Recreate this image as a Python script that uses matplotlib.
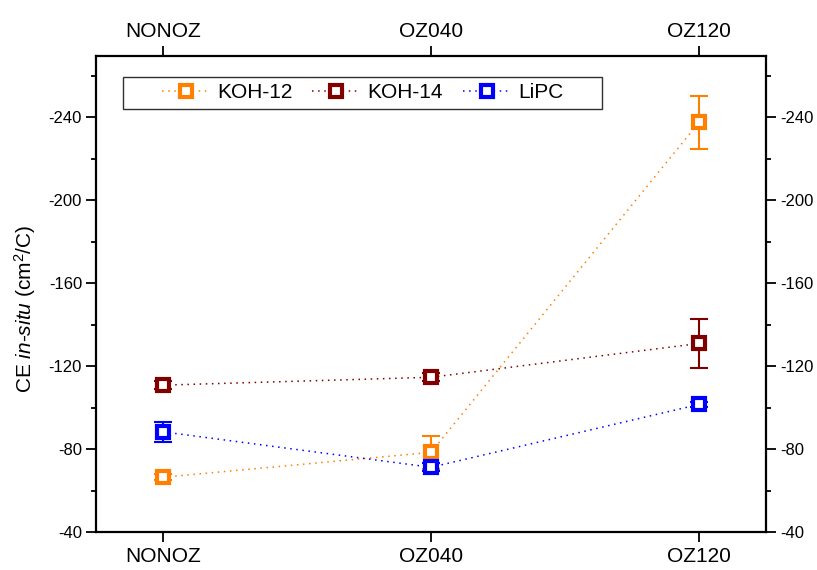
import matplotlib
matplotlib.use("Agg")
import matplotlib.pyplot as plt
from matplotlib.ticker import MultipleLocator
from matplotlib.patches import Rectangle
import numpy as np

plt.rcParams['font.family'] = ['Liberation Sans', 'DejaVu Sans']
plt.rcParams['axes.unicode_minus'] = False
plt.rcParams['mathtext.fontset'] = 'custom'
plt.rcParams['mathtext.rm'] = 'Liberation Sans'
plt.rcParams['mathtext.it'] = 'Liberation Sans:italic'

categories = ["NONOZ", "OZ040", "OZ120"]
koh12 = [-66.4, -78.4, -237.5]
koh12_err = [1.5, 8.0, 12.7]
koh14 = [-110.8, -114.6, -130.9]
koh14_err = [2.0, 2.0, 12.0]
lipc = [-88.3, -71.2, -101.5]
lipc_err = [4.8, 2.0, 1.0]

series = [
    ("KOH-12", koh12, koh12_err, "#FF8000"),
    ("KOH-14", koh14, koh14_err, "#800000"),
    ("LiPC", lipc, lipc_err, "#0000FF"),
]

fig = plt.figure(figsize=(8.17, 5.70), dpi=100)
ax = fig.add_axes([96/817, 38/570, 670/817, 476/570])

x = np.arange(len(categories))
handles = []
for name, vals, errs, col in series:
    ax.errorbar(x, vals, yerr=errs, fmt='none', ecolor=col, elinewidth=1.5,
                capsize=6.7, capthick=1.5, zorder=3)
    h, = ax.plot(x, vals, linestyle=(0, (1, 3)), linewidth=1.1, color=col,
                 marker='s', markersize=8.8, markerfacecolor='white',
                 markeredgecolor=col, markeredgewidth=3.0, label=name, zorder=4)
    handles.append(h)

ax.set_xlim(-0.25, 2.25)
ax.set_ylim(-40, -269.5)
ax.yaxis.set_minor_locator(MultipleLocator(20))
ax.set_yticks([-40, -80, -120, -160, -200, -240])
ax.set_xticks(x)
ax.set_xticklabels(categories)

for sp in ax.spines.values():
    sp.set_linewidth(1.6)

ax.tick_params(axis='x', which='major', direction='out', length=7, width=1.3,
               labelsize=15, top=True, labeltop=True, pad=4)
ax.tick_params(axis='y', which='major', direction='out', length=7, width=1.3,
               labelsize=12, right=True, labelright=True, pad=3)
ax.tick_params(axis='y', which='minor', direction='out', length=3.5, width=1.3,
               right=True)

ax.set_ylabel(r"CE $\it{in}$-$\it{situ}$ (cm$^2$/C)", fontsize=15)
ax.yaxis.set_label_coords(-0.087, 0.468)

# legend frame drawn separately for wider side padding
frame = Rectangle((0.0403, 0.8887), 0.7149, 0.0672, transform=ax.transAxes,
                  facecolor='white', edgecolor='#303030', linewidth=1.0, zorder=5)
ax.add_patch(frame)
leg = ax.legend(handles=handles, loc='center left', bbox_to_anchor=(0.0985, 0.9223),
                ncol=3, frameon=False, fontsize=15,
                handlelength=2.3, columnspacing=0.96, handletextpad=0.34,
                borderpad=0.0, borderaxespad=0.0)
leg.set_zorder(6)

fig.savefig("out.png", dpi=100)
